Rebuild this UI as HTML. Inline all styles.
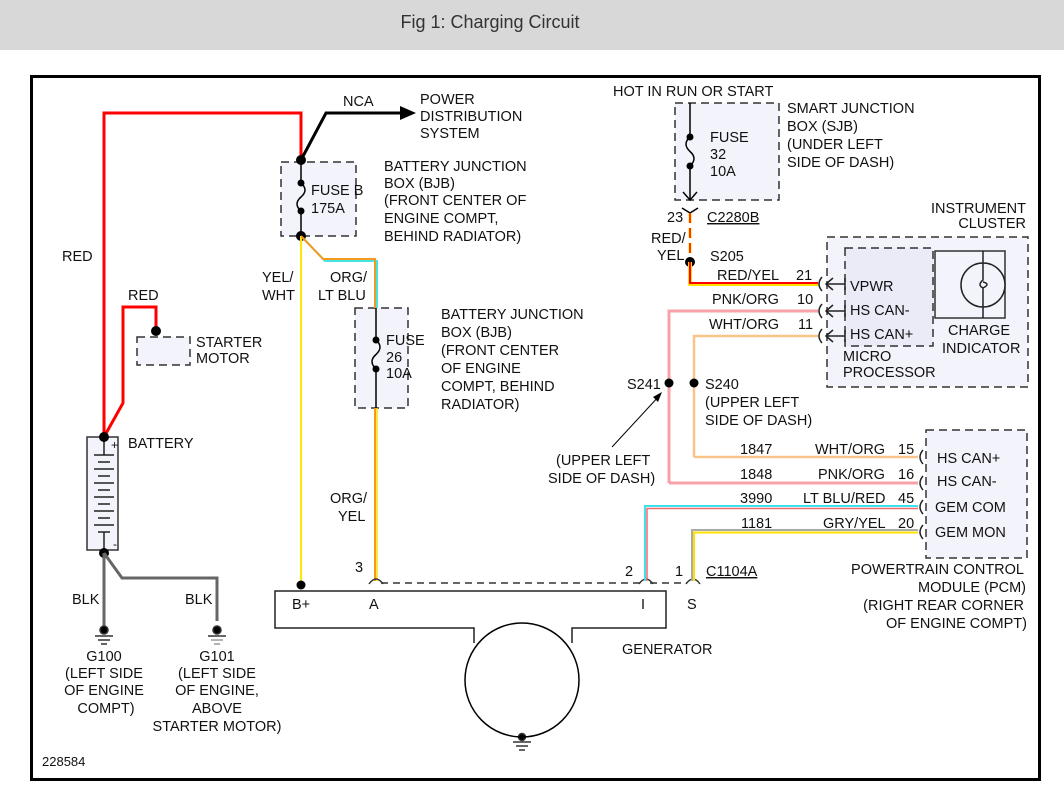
<!DOCTYPE html>
<html><head><style>
body{margin:0;background:#fff;width:1064px;height:793px;overflow:hidden}
svg text{font-family:"Liberation Sans",sans-serif;font-size:14.5px;fill:#111}
</style></head><body>
<svg width="1064" height="793" viewBox="0 0 1064 793" xmlns="http://www.w3.org/2000/svg">
<rect x="0" y="0" width="1064" height="50" fill="#d8d8d8"/>
<text x="490" y="28" text-anchor="middle" style="font-size:18px;fill:#333">Fig 1: Charging Circuit</text>
<rect x="31.5" y="76.5" width="1008" height="703" fill="#fff" stroke="#000" stroke-width="3"/>

<g fill="#f3f3fb" stroke="#333" stroke-width="1.5" stroke-dasharray="8,5">
<rect x="281" y="162" width="75" height="74"/>
<rect x="355" y="308" width="53" height="100"/>
<rect x="137" y="337" width="53" height="28"/>
<rect x="675" y="103" width="104" height="97"/>
<rect x="827" y="237" width="201" height="150"/>
<rect x="845" y="248" width="88" height="98" fill="#ebebf8"/>
<rect x="926" y="430" width="101" height="128"/>
</g>

<polyline points="104,437 104,113 301,113 301,160" fill="none" stroke="#f00" stroke-width="3"/>
<polyline points="104,437 123,403 123,307 156,307 156,331" fill="none" stroke="#f00" stroke-width="3"/>
<polyline points="301,160 326,113 400,113" fill="none" stroke="#000" stroke-width="3"/>
<polygon points="400,106 416,113 400,120" fill="#000"/>

<line x1="301" y1="160" x2="301" y2="183" stroke="#000" stroke-width="1.5"/>
<line x1="301" y1="211" x2="301" y2="236" stroke="#000" stroke-width="1.5"/>
<path d="M301,183 q8,7 0,14 q-8,7 0,14" fill="none" stroke="#000" stroke-width="1.5"/>
<circle cx="301" cy="160" r="5"/><circle cx="301" cy="183" r="3.5"/><circle cx="301" cy="211" r="3.5"/><circle cx="301" cy="236" r="5"/>

<line x1="301" y1="236" x2="301" y2="585" stroke="#ffe800" stroke-width="2"/>
<polyline points="303,238 325,261 377,261 377,308" fill="none" stroke="#44e4e4" stroke-width="2"/>
<polyline points="301,236 323,259 375,259 375,308" fill="none" stroke="#f39a1e" stroke-width="2"/>
<line x1="376" y1="308" x2="376" y2="340" stroke="#000" stroke-width="1.5"/>
<line x1="376" y1="369" x2="376" y2="408" stroke="#000" stroke-width="1.5"/>
<path d="M376,340 q8,7 0,14.5 q-8,7 0,14.5" fill="none" stroke="#000" stroke-width="1.5"/>
<circle cx="376" cy="340" r="3.5"/><circle cx="376" cy="369" r="3.5"/>
<line x1="375" y1="408" x2="375" y2="581" stroke="#f39a1e" stroke-width="2"/>
<line x1="377" y1="408" x2="377" y2="581" stroke="#ffe000" stroke-width="1.5"/>
<circle cx="301" cy="585" r="4.5"/>
<circle cx="156" cy="331" r="5"/>

<rect x="87" y="437" width="31" height="113" fill="#f3f3fb" stroke="#333" stroke-width="1.5"/>
<g stroke="#222" stroke-width="1.5">
<line x1="104" y1="440" x2="104" y2="455"/><line x1="94" y1="455" x2="114" y2="455"/>
<line x1="98" y1="462" x2="110" y2="462"/><line x1="94" y1="469" x2="114" y2="469"/>
<line x1="98" y1="476" x2="110" y2="476"/><line x1="94" y1="483" x2="114" y2="483"/>
<line x1="98" y1="490" x2="110" y2="490"/><line x1="94" y1="497" x2="114" y2="497"/>
<line x1="98" y1="504" x2="110" y2="504"/><line x1="94" y1="511" x2="114" y2="511"/>
<line x1="98" y1="518" x2="110" y2="518"/><line x1="94" y1="525" x2="114" y2="525"/>
<line x1="98" y1="532" x2="110" y2="532"/><line x1="104" y1="532" x2="104" y2="550"/>
</g>
<circle cx="104" cy="437" r="5"/><circle cx="104" cy="553" r="5"/>
<text x="111" y="449" style="font-size:12px">+</text><text x="113" y="548" style="font-size:12px">-</text>
<polyline points="104,553 104,627" fill="none" stroke="#666" stroke-width="3"/>
<polyline points="104,553 122,578 217,578 217,621" fill="none" stroke="#666" stroke-width="3"/>
<g stroke="#333" stroke-width="1.5">
<circle cx="104" cy="630" r="4" fill="#000"/><line x1="95" y1="636" x2="113" y2="636"/><line x1="98" y1="640" x2="110" y2="640"/><line x1="101" y1="644" x2="107" y2="644"/>
<circle cx="217" cy="630" r="4" fill="#000"/><line x1="208" y1="636" x2="226" y2="636"/><line x1="211" y1="640" x2="223" y2="640" stroke="#999"/><line x1="214" y1="644" x2="220" y2="644" stroke="#999"/>
<circle cx="522" cy="737" r="3.5" fill="#000"/><line x1="513" y1="742" x2="531" y2="742"/><line x1="516" y1="746" x2="528" y2="746"/><line x1="519" y1="750" x2="525" y2="750"/>
</g>

<path d="M474,643 V628 H275 V591 H666 V628 H572 V643" fill="none" stroke="#222" stroke-width="1.5"/>
<ellipse cx="522" cy="680" rx="57" ry="57" fill="none" stroke="#000" stroke-width="1.5"/>
<line x1="381" y1="583" x2="640" y2="583" stroke="#333" stroke-width="1.5" stroke-dasharray="7,5"/>
<line x1="650" y1="583" x2="687" y2="583" stroke="#333" stroke-width="1.5" stroke-dasharray="7,5"/>
<g fill="none" stroke="#333" stroke-width="1.5">
<path d="M369,584 q7,-10 14,0"/><path d="M639,584 q7,-10 14,0"/><path d="M686,584 q7,-10 14,0"/>
</g>

<line x1="690" y1="103" x2="690" y2="137" stroke="#000" stroke-width="1.5"/>
<line x1="690" y1="166" x2="690" y2="200" stroke="#000" stroke-width="1.5"/>
<path d="M690,137 q-8,7 0,14.5 q8,7 0,14.5" fill="none" stroke="#000" stroke-width="1.5"/>
<circle cx="690" cy="137" r="3.5"/><circle cx="690" cy="166" r="3.5"/>
<polyline points="683,192 690,200 697,192" fill="none" stroke="#000" stroke-width="1.5"/>
<polyline points="682,208 690,213 698,208" fill="none" stroke="#000" stroke-width="1.5"/>
<line x1="690" y1="213" x2="690" y2="258" stroke="#ffe000" stroke-width="3" stroke-dasharray="10,5"/>
<line x1="690" y1="213" x2="690" y2="258" stroke="#f00" stroke-width="1.5" stroke-dasharray="10,5"/>
<circle cx="690" cy="262" r="5"/>
<polyline points="690,262 690,284 818,284" fill="none" stroke="#ffe000" stroke-width="4"/>
<polyline points="690,262 690,283 818,283" fill="none" stroke="#f00" stroke-width="2"/>

<polyline points="669,483 669,311 818,311" fill="none" stroke="#f6a2a8" stroke-width="3"/>
<polyline points="669,483 918,483" fill="none" stroke="#f6a2a8" stroke-width="3"/>
<polyline points="694,457 694,336 818,336" fill="none" stroke="#f9c48a" stroke-width="2.5"/>
<polyline points="694,457 918,457" fill="none" stroke="#f9c48a" stroke-width="2.5"/>
<circle cx="669" cy="383" r="4.5"/><circle cx="694" cy="383" r="4.5"/>
<line x1="612" y1="447" x2="660" y2="395" stroke="#000" stroke-width="1"/>
<polygon points="662,392 653,397 658,402" fill="#000"/>

<polyline points="918,506 645,506 645,581" fill="none" stroke="#3ee0ee" stroke-width="2"/>
<polyline points="918,508.5 647,508.5 647,581" fill="none" stroke="#f36a6a" stroke-width="1.5"/>
<polyline points="918,530 692,530 692,581" fill="none" stroke="#aaa" stroke-width="2"/>
<polyline points="918,532.5 694,532.5 694,581" fill="none" stroke="#ffe000" stroke-width="2"/>

<g fill="none" stroke="#222" stroke-width="1.5">
<path d="M822,277 q-6,7 0,14"/><path d="M822,304 q-6,7 0,14"/><path d="M822,329 q-6,7 0,14"/>
<path d="M923,450 q-6,7 0,14"/><path d="M923,476 q-6,7 0,14"/><path d="M923,500 q-6,7 0,14"/><path d="M923,525 q-6,7 0,14"/>
<path d="M845,284 H826 M833,278 L826,284 L833,290 M845,278 V290"/>
<path d="M845,311 H826 M833,305 L826,311 L833,317 M845,305 V317"/>
<path d="M845,336 H826 M833,330 L826,336 L833,342 M845,330 V342"/>
</g>
<rect x="935" y="251" width="70" height="67" fill="none" stroke="#333" stroke-width="1.5"/>
<circle cx="983" cy="285" r="22" fill="#f3f3fb" stroke="#222" stroke-width="1.5"/>
<path d="M983,251 V280 q-6,5 0,8 q8,-4 0,-6 M983,288 V318" fill="none" stroke="#222" stroke-width="1.5"/>

<text x="343" y="106">NCA</text>
<text x="420" y="104">POWER</text><text x="420" y="121">DISTRIBUTION</text><text x="420" y="138">SYSTEM</text>
<text x="311" y="195">FUSE B</text><text x="311" y="213">175A</text>
<text x="384" y="171">BATTERY JUNCTION</text><text x="384" y="188">BOX (BJB)</text><text x="384" y="205">(FRONT CENTER OF</text><text x="384" y="223">ENGINE COMPT,</text><text x="384" y="241">BEHIND RADIATOR)</text>
<text x="62" y="261">RED</text><text x="128" y="300">RED</text>
<text x="262" y="282">YEL/</text><text x="262" y="300">WHT</text>
<text x="330" y="282">ORG/</text><text x="318" y="300">LT BLU</text>
<text x="386" y="345">FUSE</text><text x="386" y="362">26</text><text x="386" y="378">10A</text>
<text x="441" y="319">BATTERY JUNCTION</text><text x="441" y="337">BOX (BJB)</text><text x="441" y="355">(FRONT CENTER</text><text x="441" y="373">OF ENGINE</text><text x="441" y="391">COMPT, BEHIND</text><text x="441" y="409">RADIATOR)</text>
<text x="196" y="347">STARTER</text><text x="196" y="363">MOTOR</text>
<text x="128" y="448">BATTERY</text>
<text x="330" y="503">ORG/</text><text x="338" y="521">YEL</text>
<text x="72" y="604">BLK</text><text x="185" y="604">BLK</text>
<g text-anchor="middle">
<text x="104" y="661">G100</text><text x="104" y="678">(LEFT SIDE</text><text x="104" y="695">OF ENGINE</text><text x="106" y="713">COMPT)</text>
<text x="217" y="661">G101</text><text x="217" y="678">(LEFT SIDE</text><text x="217" y="695">OF ENGINE,</text><text x="217" y="713">ABOVE</text><text x="217" y="731">STARTER MOTOR)</text>
</g>
<text x="42" y="766" style="font-size:13px">228584</text>
<text x="292" y="609">B+</text><text x="369" y="609">A</text><text x="641" y="609">I</text><text x="687" y="609">S</text>
<text x="355" y="572">3</text><text x="625" y="576">2</text><text x="675" y="576">1</text>
<text x="706" y="576" text-decoration="underline">C1104A</text>
<text x="622" y="654">GENERATOR</text>
<text x="613" y="96">HOT IN RUN OR START</text>
<text x="710" y="142">FUSE</text><text x="710" y="159">32</text><text x="710" y="176">10A</text>
<text x="787" y="113">SMART JUNCTION</text><text x="787" y="131">BOX (SJB)</text><text x="787" y="149">(UNDER LEFT</text><text x="787" y="167">SIDE OF DASH)</text>
<text x="667" y="222">23</text><text x="707" y="222" text-decoration="underline">C2280B</text>
<text x="651" y="243">RED/</text><text x="657" y="260">YEL</text>
<text x="710" y="261">S205</text>
<text x="717" y="280">RED/YEL</text><text x="796" y="280">21</text>
<text x="712" y="304">PNK/ORG</text><text x="797" y="304">10</text>
<text x="709" y="329">WHT/ORG</text><text x="798" y="329">11</text>
<text x="627" y="389">S241</text><text x="705" y="389">S240</text>
<text x="705" y="407">(UPPER LEFT</text><text x="705" y="425">SIDE OF DASH)</text>
<text x="556" y="465">(UPPER LEFT</text><text x="548" y="483">SIDE OF DASH)</text>
<text x="1026" y="213" text-anchor="end">INSTRUMENT</text><text x="1026" y="228" text-anchor="end">CLUSTER</text>
<text x="850" y="291">VPWR</text><text x="850" y="315">HS CAN-</text><text x="850" y="339">HS CAN+</text>
<text x="843" y="361">MICRO</text><text x="843" y="377">PROCESSOR</text>
<text x="948" y="335">CHARGE</text><text x="942" y="353">INDICATOR</text>
<text x="740" y="454">1847</text><text x="815" y="454">WHT/ORG</text><text x="898" y="454">15</text>
<text x="740" y="479">1848</text><text x="818" y="479">PNK/ORG</text><text x="898" y="479">16</text>
<text x="740" y="503">3990</text><text x="803" y="503">LT BLU/RED</text><text x="898" y="503">45</text>
<text x="741" y="528">1181</text><text x="823" y="528">GRY/YEL</text><text x="898" y="528">20</text>
<text x="937" y="463">HS CAN+</text><text x="937" y="486">HS CAN-</text><text x="935" y="512">GEM COM</text><text x="935" y="537">GEM MON</text>
<g text-anchor="end">
<text x="1024" y="574">POWERTRAIN CONTROL</text><text x="1026" y="592">MODULE (PCM)</text><text x="1024" y="610">(RIGHT REAR CORNER</text><text x="1027" y="628">OF ENGINE COMPT)</text>
</g>
</svg>
</body></html>
